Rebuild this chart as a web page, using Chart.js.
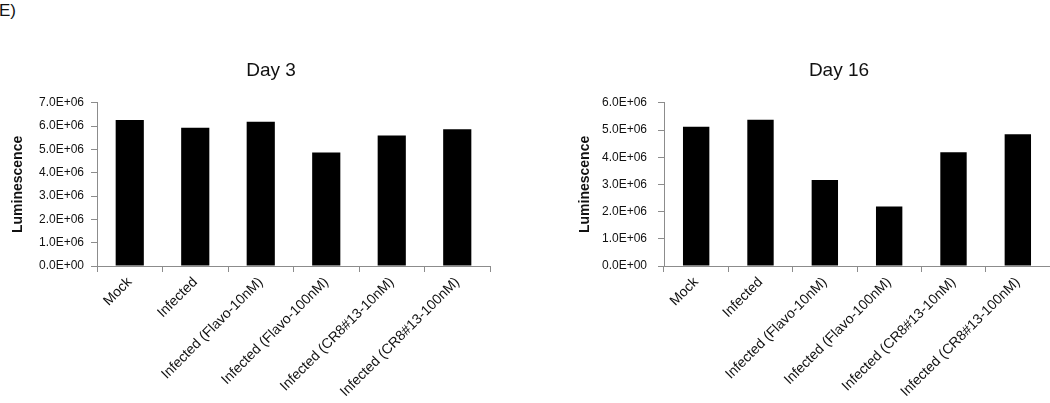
<!DOCTYPE html>
<html>
<head>
<meta charset="utf-8">
<script src="https://cdn.jsdelivr.net/npm/chart.js@4.4.1/dist/chart.umd.min.js"></script>
<style>
  html, body { margin: 0; padding: 0; background: #fff; overflow: hidden; }
  body { width: 1050px; height: 403px; position: relative; }
  #panelLabel { position: absolute; left: -1px; top: 1px; font: 17px "Liberation Sans", Arial, sans-serif; color: #111; }
  canvas { position: absolute; top: 0; }
  #day3Chart { left: 0; }
  #day16Chart { left: 567px; }
</style>
</head>
<body>
<div id="panelLabel">E)</div>
<canvas id="day3Chart" width="542" height="403"></canvas>
<canvas id="day16Chart" width="544" height="403"></canvas>
<script>
const categories = [
    'Mock',
    'Infected',
    'Infected (Flavo-10nM)',
    'Infected (Flavo-100nM)',
    'Infected (CR8#13-10nM)',
    'Infected (CR8#13-100nM)'
];
const day3Values = [6.26e6, 5.93e6, 6.19e6, 4.87e6, 5.60e6, 5.87e6];
const day16Values = [5.12e6, 5.38e6, 3.16e6, 2.19e6, 4.18e6, 4.84e6];
const day3Max = 7e6;
const day16Max = 6e6;

const axisGray = '#8c8c8c';
const fontFamily = '"Liberation Sans", Arial, sans-serif';

// Excel-style scientific labels, e.g. 7.0E+06
function sciLabel(value) {
    const s = Number(value).toExponential(1).toUpperCase();
    const parts = s.split('E');
    const sign = parts[1][0];
    const exp = parts[1].slice(1).padStart(2, '0');
    return parts[0] + 'E' + sign + exp;
}

function makeChart(canvasId, title, values, yMax, opts) {
    const ctx = document.getElementById(canvasId).getContext('2d');
    return new Chart(ctx, {
        type: 'bar',
        data: {
            labels: categories,
            datasets: [{
                data: values,
                backgroundColor: '#000',
                borderWidth: 0,
                categoryPercentage: 1,
                barPercentage: opts.barPct
            }]
        },
        options: {
            responsive: false,
            animation: false,
            devicePixelRatio: 1,
            layout: { padding: 0 },
            plugins: {
                legend: { display: false },
                tooltip: { enabled: false },
                title: {
                    display: true,
                    text: title,
                    color: '#111',
                    font: { family: fontFamily, size: 19, weight: 'normal' },
                    padding: { top: 59, bottom: 21 }
                }
            },
            scales: {
                x: {
                    afterFit: scale => { scale.height = 137; },
                    grid: { drawOnChartArea: false, tickLength: 6, color: axisGray },
                    border: { color: axisGray },
                    ticks: {
                        color: '#111',
                        minRotation: 45,
                        maxRotation: 45,
                        padding: 2,
                        autoSkip: false,
                        font: { family: fontFamily, size: 14 }
                    }
                },
                y: {
                    min: 0,
                    max: yMax,
                    afterFit: scale => { scale.width = 97; },
                    grid: { drawOnChartArea: false, tickLength: 6, color: axisGray },
                    border: { color: axisGray },
                    ticks: {
                        stepSize: 1e6,
                        color: '#111',
                        padding: opts.tickPad,
                        font: { family: fontFamily, size: 12 },
                        callback: value => sciLabel(value)
                    },
                    title: {
                        display: true,
                        text: 'Luminescence',
                        color: '#111',
                        font: { family: fontFamily, size: 14, weight: 'bold' },
                        padding: { top: 10, bottom: 0 }
                    }
                },
                // empty spacer on the right so the title stays centred on the whole panel
                spacer: {
                    type: 'linear',
                    position: 'right',
                    grid: { display: false },
                    border: { display: false },
                    ticks: { display: false },
                    afterFit: scale => { scale.width = opts.rightPad; }
                }
            }
        }
    });
}

makeChart('day3Chart', 'Day 3', day3Values, day3Max, { rightPad: 52, tickPad: 7, barPct: 0.43 });
makeChart('day16Chart', 'Day 16', day16Values, day16Max, { rightPad: 61, tickPad: 11, barPct: 0.41 });
</script>
</body>
</html>
